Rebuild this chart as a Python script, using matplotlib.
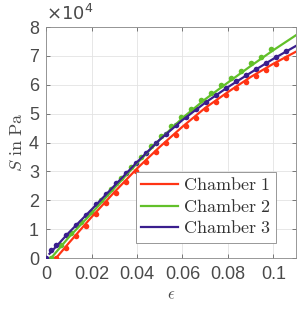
import matplotlib
matplotlib.use("Agg")
import matplotlib.pyplot as plt
from matplotlib.font_manager import FontProperties

# stress S in units of 1e4 Pa, strain eps dimensionless
LABELS = ["Chamber 1", "Chamber 2", "Chamber 3"]
COLORS = ["#ff3414", "#62c02a", "#3a1e8e"]

# measured points (staircase dots)
EPS_RED = [0.0044, 0.0088, 0.0132, 0.0176, 0.022, 0.0264, 0.0308, 0.0352, 0.0396, 0.044,
           0.0484, 0.0528, 0.0572, 0.0616, 0.066, 0.0704, 0.0748, 0.0792, 0.0836, 0.088,
           0.0924, 0.0968, 0.1012, 0.1056]
S_RED = [0.0, 0.35, 0.75, 1.12, 1.52, 1.9, 2.27, 2.63, 3.0, 3.33,
         3.66, 3.98, 4.28, 4.58, 4.86, 5.15, 5.4, 5.65, 5.88, 6.1,
         6.32, 6.52, 6.72, 6.92]

EPS_GREEN = [0.0022, 0.0066, 0.011, 0.0154, 0.0198, 0.0242, 0.0286, 0.033, 0.0374, 0.0418,
             0.0462, 0.0506, 0.055, 0.0594, 0.0638, 0.0682, 0.0726, 0.077, 0.0814, 0.0858,
             0.0902, 0.0946, 0.099]
S_GREEN = [0.0, 0.45, 0.88, 1.25, 1.61, 2.0, 2.38, 2.76, 3.14, 3.51,
           3.87, 4.23, 4.56, 4.89, 5.18, 5.46, 5.73, 5.99, 6.24, 6.49,
           6.74, 6.98, 7.23]

EPS_BLUE = [0.0, 0.0022, 0.0044, 0.0088, 0.0132, 0.0176, 0.022, 0.0264, 0.0308, 0.0352,
            0.0396, 0.044, 0.0484, 0.0528, 0.0572, 0.0616, 0.066, 0.0704, 0.0748, 0.0792,
            0.0836, 0.088, 0.0924, 0.0968, 0.1012, 0.1056]
S_BLUE = [0.0, 0.28, 0.45, 0.8, 1.16, 1.51, 1.86, 2.22, 2.59, 2.95,
          3.31, 3.65, 4.0, 4.31, 4.61, 4.9, 5.16, 5.42, 5.66, 5.9,
          6.12, 6.34, 6.56, 6.77, 6.97, 7.17]

# fitted curves
FIT_EPS_RED = [0.0044, 0.01, 0.02, 0.03, 0.04, 0.05, 0.06, 0.07, 0.08, 0.09, 0.10, 0.11]
FIT_S_RED = [0.0, 0.52, 1.42, 2.28, 3.1, 3.85, 4.55, 5.2, 5.75, 6.27, 6.73, 7.15]
FIT_EPS_GREEN = [0.0022, 0.01, 0.02, 0.03, 0.04, 0.05, 0.06, 0.07, 0.08, 0.09, 0.10, 0.11]
FIT_S_GREEN = [0.0, 0.72, 1.55, 2.42, 3.28, 4.1, 4.85, 5.5, 6.08, 6.65, 7.2, 7.72]
FIT_EPS_BLUE = [0.0015, 0.01, 0.02, 0.03, 0.04, 0.05, 0.06, 0.07, 0.08, 0.09, 0.10, 0.11]
FIT_S_BLUE = [0.15, 0.88, 1.68, 2.5, 3.32, 4.1, 4.78, 5.38, 5.92, 6.42, 6.9, 7.35]

X_TICKS = [0, 0.02, 0.04, 0.06, 0.08, 0.1]
X_TICK_LABELS = ["0", "0.02", "0.04", "0.06", "0.08", "0.1"]
Y_TICKS = [0, 1, 2, 3, 4, 5, 6, 7, 8]

TICK_COLOR = "#4a4a4a"
plt.rcParams["font.family"] = ["Liberation Sans", "DejaVu Sans"]

fig = plt.figure(figsize=(2.97, 3.11), dpi=100, facecolor="white")
ax = fig.add_axes([0.155, 0.170, 0.842, 0.743])

series = [
    (EPS_RED, S_RED, FIT_EPS_RED, FIT_S_RED),
    (EPS_GREEN, S_GREEN, FIT_EPS_GREEN, FIT_S_GREEN),
    (EPS_BLUE, S_BLUE, FIT_EPS_BLUE, FIT_S_BLUE),
]
for (ex, sy, fx, fy), color, label in zip(series, COLORS, LABELS):
    ax.plot(ex, sy, linestyle="none", marker="o", markersize=4.0,
            color=color, markeredgewidth=0, zorder=3)
    ax.plot(fx, fy, color=color, linewidth=1.6, label=r"$\mathrm{%s}$" % label.replace(" ", r"\ "),
            zorder=4)

ax.set_xlim(0, 0.11)
ax.set_ylim(0, 8)
ax.set_xticks(X_TICKS)
ax.set_xticklabels(X_TICK_LABELS)
ax.set_yticks(Y_TICKS)
ax.grid(True, color="#e3e3e3", linewidth=0.6)
ax.set_axisbelow(True)
ax.tick_params(direction="in", length=3, width=0.5, colors=TICK_COLOR,
               labelsize=13, top=True, right=True)
ax.tick_params(axis="x", pad=6)
ax.tick_params(axis="y", pad=5)
for sp in ax.spines.values():
    sp.set_color("#888888")
    sp.set_linewidth(0.6)

ax.set_ylabel(r"$S\ \mathrm{in\ Pa}$", fontsize=13, color=TICK_COLOR,
              math_fontfamily="cm", labelpad=2)
ax.set_xlabel(r"$\epsilon$", fontsize=12, color=TICK_COLOR,
              math_fontfamily="cm", labelpad=3)
ax.text(0.0, 1.012, r"$\times 10^{4}$", transform=ax.transAxes, fontsize=13,
        color=TICK_COLOR, ha="left", va="bottom", math_fontfamily="dejavusans")

leg = ax.legend(loc="lower right", bbox_to_anchor=(0.92, 0.066), borderaxespad=0,
                prop=FontProperties(size=13, math_fontfamily="cm"),
                fancybox=False, framealpha=1, edgecolor="#888888",
                handlelength=2.0, handletextpad=0.3, labelspacing=0.25,
                borderpad=0.3)
leg.get_frame().set_linewidth(0.6)
for t in leg.get_texts():
    t.set_color("#333333")

fig.savefig("out.png", dpi=100)
